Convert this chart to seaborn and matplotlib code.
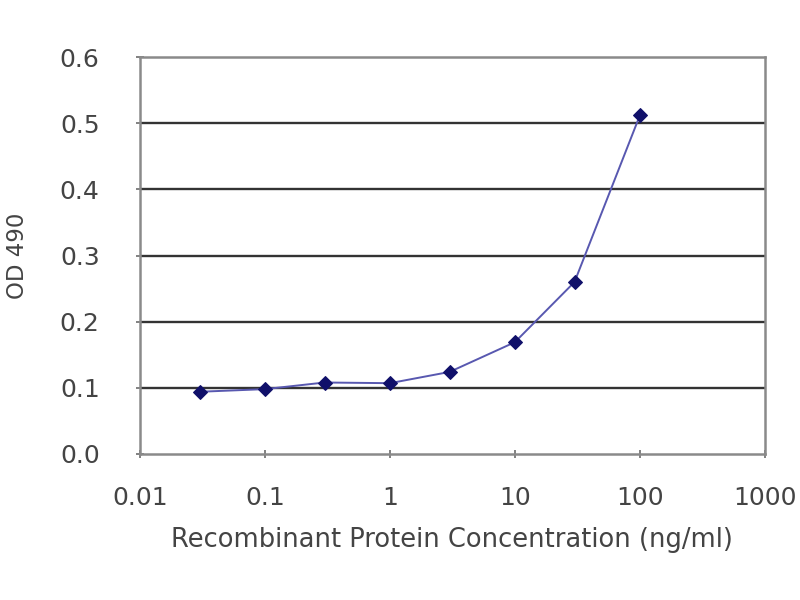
import matplotlib
matplotlib.use("Agg")
import matplotlib.pyplot as plt
import seaborn as sns
import pandas as pd
from matplotlib.ticker import FixedLocator, FixedFormatter, NullLocator

# datos
concentracion = [0.03, 0.1, 0.3, 1, 3, 10, 30, 100]
od490 = [0.094, 0.098, 0.108, 0.107, 0.124, 0.169, 0.260, 0.512]
xticks = [0.01, 0.1, 1, 10, 100, 1000]
xtick_labels = ["0.01", "0.1", "1", "10", "100", "1000"]
yticks = [0.0, 0.1, 0.2, 0.3, 0.4, 0.5, 0.6]

df = pd.DataFrame({"conc": concentracion, "od": od490})

sns.set_style("white")
plt.rcParams['font.family'] = ['DejaVu Sans']

fig = plt.figure(figsize=(8, 6), dpi=100)
# area del grafico: x 140-765 px, y 57-454 px
ax = fig.add_axes([0.175, 0.2435, 0.781, 0.661])

for y in yticks[1:-1]:
    ax.axhline(y, color="#333333", lw=1.7, zorder=1)

sns.lineplot(data=df, x="conc", y="od", ax=ax, color="#5858b0", lw=1.4,
             marker="D", markersize=7, markerfacecolor="#10106a",
             markeredgecolor="#10106a", zorder=3)

ax.set_xscale("log")
ax.set_xlim(0.01, 1000)
ax.set_ylim(0, 0.6)
ax.xaxis.set_major_locator(FixedLocator(xticks))
ax.xaxis.set_major_formatter(FixedFormatter(xtick_labels))
ax.xaxis.set_minor_locator(NullLocator())
ax.set_yticks(yticks)
ax.set_yticklabels([f"{v:.1f}" for v in yticks])

for s in ax.spines.values():
    s.set_color("#8a8a8a")
    s.set_linewidth(1.8)

ax.tick_params(axis="both", which="major", direction="inout", length=6,
               width=1.3, color="#777777", labelsize=18, labelcolor="#444444",
               bottom=True, left=True)
ax.tick_params(axis="x", pad=20)
ax.tick_params(axis="y", pad=26)

ax.set_xlabel("Recombinant Protein Concentration (ng/ml)", fontsize=18.5,
              color="#444444", labelpad=12)
ax.set_ylabel("OD 490", fontsize=16.5, color="#444444", labelpad=22)

fig.savefig("out.png", dpi=100)
